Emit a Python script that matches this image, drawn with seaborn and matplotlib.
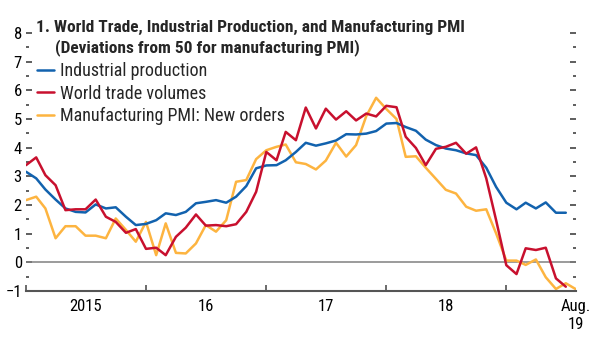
import numpy as np
import pandas as pd
import matplotlib
matplotlib.use('Agg')
import matplotlib.pyplot as plt
import seaborn as sns

# monthly data, Jan 2015 - Aug 2019
industrial = [3.16, 2.93, 2.54, 2.19, 1.88, 1.76, 1.74, 2.02, 1.88, 1.92, 1.59, 1.30,
              1.34, 1.47, 1.71, 1.65, 1.76, 2.06, 2.11, 2.17, 2.08, 2.29, 2.66, 3.28,
              3.38, 3.39, 3.56, 3.85, 4.17, 4.07, 4.15, 4.25, 4.47, 4.46, 4.49, 4.58,
              4.84, 4.86, 4.72, 4.59, 4.28, 4.09, 3.97, 3.91, 3.80, 3.74, 3.30, 2.63,
              2.08, 1.85, 2.08, 1.88, 2.09, 1.73, 1.73]
trade = [3.39, 3.66, 3.04, 2.69, 1.82, 1.85, 1.85, 2.19, 1.59, 1.41, 1.03, 1.16,
         0.47, 0.51, 0.25, 0.89, 1.21, 1.67, 1.28, 1.30, 1.26, 1.33, 1.76, 2.46,
         3.85, 3.56, 4.55, 4.26, 5.40, 4.67, 5.36, 4.98, 5.27, 4.95, 5.19, 5.09,
         5.46, 5.41, 4.38, 3.99, 3.39, 3.96, 4.03, 4.17, 3.79, 4.01, 2.93, 1.47,
         -0.10, -0.41, 0.49, 0.43, 0.51, -0.56, -0.85]
pmi = [2.17, 2.29, 1.88, 0.84, 1.26, 1.26, 0.93, 0.93, 0.84, 1.53, 1.13, 0.72,
       1.41, 0.25, 1.36, 0.33, 0.31, 0.66, 1.30, 1.07, 1.47, 2.81, 2.87, 3.60,
       3.91, 4.03, 4.11, 3.49, 3.43, 3.24, 3.55, 4.17, 3.69, 4.09, 5.10, 5.74,
       5.35, 5.00, 3.68, 3.70, 3.30, 2.91, 2.53, 2.40, 1.94, 1.80, 1.85, 1.01,
       0.06, 0.06, -0.09, 0.10, -0.52, -0.93, -0.73, -0.94]

months = pd.date_range('2015-01-01', periods=len(pmi), freq='MS')
year_starts = pd.to_datetime(['2015-01-01', '2016-01-01', '2017-01-01', '2018-01-01', '2019-01-01'])
label_pos = pd.to_datetime(['2015-07-01', '2016-07-01', '2017-07-01', '2018-07-01', '2019-08-01'])
x_labels = ['2015', '16', '17', '18', 'Aug.\n19']

names = ['Industrial production', 'World trade volumes', 'Manufacturing PMI: New orders']
colors = ['#1262AE', '#C8102E', '#FDB440']

sns.set_theme(style='white')
plt.rcParams['font.family'] = ['Roboto Condensed', 'Liberation Sans', 'DejaVu Sans']

fig = plt.figure(figsize=(5.97, 3.64), dpi=100)
ax = fig.add_axes([26/597, 1 - 291/364, 550/597, 258/364])

ax.axhline(0, color='#808080', lw=1.1, zorder=1)

df_ip = pd.DataFrame({'date': months[:len(industrial)], 'value': industrial})
df_tr = pd.DataFrame({'date': months[:len(trade)], 'value': trade})
df_pmi = pd.DataFrame({'date': months, 'value': pmi})

sns.lineplot(data=df_pmi, x='date', y='value', color=colors[2], lw=1.8, ax=ax, label=names[2], zorder=2)
sns.lineplot(data=df_ip, x='date', y='value', color=colors[0], lw=1.8, ax=ax, label=names[0], zorder=3)
sns.lineplot(data=df_tr, x='date', y='value', color=colors[1], lw=1.8, ax=ax, label=names[1], zorder=4)

ax.set_xlim(months[0], months[-1])
ax.set_ylim(-1, 8)
ax.set_xlabel('')
ax.set_ylabel('')

for s in ['top', 'left', 'right']:
    ax.spines[s].set_visible(False)
ax.spines['bottom'].set_color('#555555')
ax.spines['bottom'].set_linewidth(1.5)

# y ticks on both sides, inward, labels only on the left
ax.set_yticks(np.arange(-1, 9, 1))
ax.set_yticks(np.arange(-0.5, 8, 1), minor=True)
ax.tick_params(axis='y', which='major', direction='in', length=4.5, width=1.1,
               left=True, right=True, labelleft=True, labelright=False,
               labelsize=12, color='#333333', pad=3)
ax.tick_params(axis='y', which='minor', direction='in', length=2, width=1.1,
               left=True, right=True, color='#333333')
ax.set_yticklabels(['\u22121', '0', '1', '2', '3', '4', '5', '6', '7', '8'])

# x ticks at year starts, labels in between
ax.set_xticks(year_starts)
ax.set_xticklabels([''] * len(year_starts))
ax.set_xticks(label_pos, minor=True)
ax.set_xticklabels(x_labels, minor=True)
ax.tick_params(axis='x', which='major', direction='in', length=4, width=1.1,
               bottom=True, color='#444444')
ax.tick_params(axis='x', which='minor', length=0, labelsize=12, pad=6)

for t in ax.get_xticklabels(minor=True) + ax.get_yticklabels():
    t.set_color('black')

# legend
handles, labels = ax.get_legend_handles_labels()
order = [labels.index(n) for n in names]
ax.legend([handles[i] for i in order], [labels[i] for i in order],
          loc='upper left', bbox_to_anchor=(37/597, 1 - 62/364), bbox_transform=fig.transFigure,
          frameon=False, fontsize=13, handlelength=0.95, handletextpad=0.3,
          labelspacing=0.26, borderpad=0, borderaxespad=0)

# title
fig.text(36/597, 1 - 32/364, '1. World Trade, Industrial Production, and Manufacturing PMI',
         fontsize=12.5, fontweight='bold', va='baseline', ha='left')
fig.text(55/597, 1 - 52/364, '(Deviations from 50 for manufacturing PMI)',
         fontsize=12.5, fontweight='bold', va='baseline', ha='left')

fig.savefig('out.png', dpi=100)
